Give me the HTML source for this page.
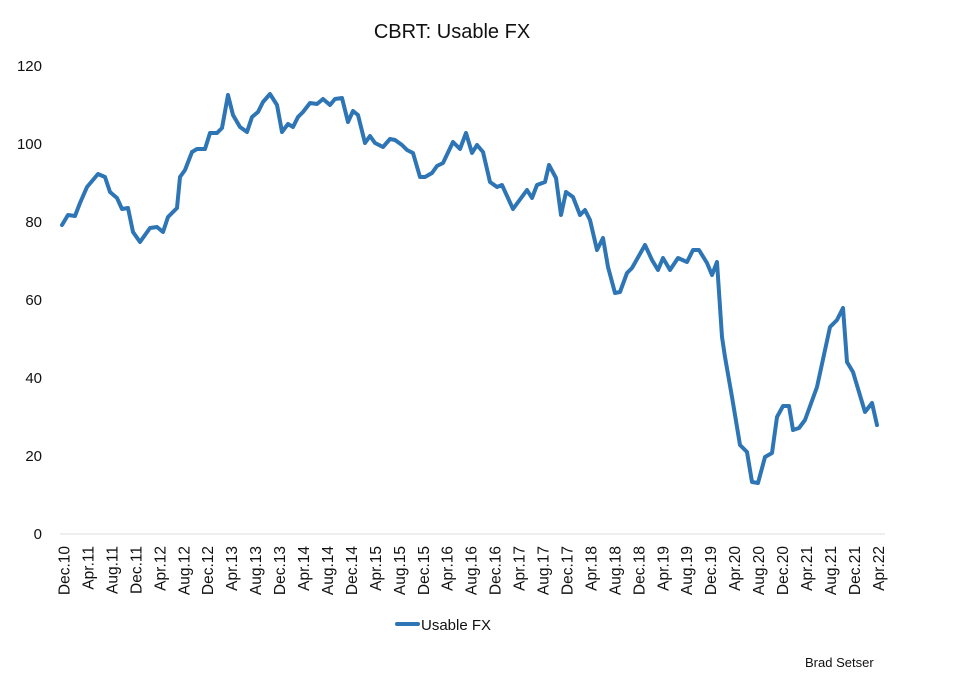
<!DOCTYPE html>
<html><head><meta charset="utf-8"><style>
body{margin:0;background:#fff;}
svg{display:block;font-family:"Liberation Sans",sans-serif;}
</style></head><body>
<svg width="967" height="673" viewBox="0 0 967 673" xmlns="http://www.w3.org/2000/svg">
<rect width="967" height="673" fill="#fff"/>
<text x="452" y="38" font-size="20" text-anchor="middle" fill="#111">CBRT: Usable FX</text>
<g font-size="15" fill="#111" text-anchor="end">
<text x="42" y="71">120</text>
<text x="42" y="149">100</text>
<text x="42" y="227">80</text>
<text x="42" y="305">60</text>
<text x="42" y="383">40</text>
<text x="42" y="461">20</text>
<text x="42" y="539">0</text>
</g>
<line x1="60" y1="534" x2="885" y2="534" stroke="#ddd" stroke-width="1"/>
<g font-size="15.5" fill="#111" text-anchor="end" id="xl"></g>
<polyline fill="none" stroke="#2e75b6" stroke-width="4" stroke-linejoin="round" stroke-linecap="round" points="
62,225 68,215 75,216 80,203 87,187 98,174 105,177 110,192 117,198 122,209 128,208 133,232 140,242 150,228 157,227 163,232 168,217 177,208 180,177 185,170 192,152 197,149 205,149 210,133 217,133 222,128 228,95 233,115 240,127 247,132 252,117 258,112 263,102 270,94 277,105 282,132 288,124 293,127 298,117 303,112 310,103 317,104 323,99 330,105 335,99 342,98 348,122 353,111 358,115 365,143 370,136 375,143 383,147 390,139 395,140 402,145 407,150 413,153 420,177 425,177 432,173 437,166 443,163 453,142 460,149 466,133 472,153 477,145 483,152 490,182 497,187 502,185 513,209 527,190 532,198 537,185 545,182 549,165 556,178 561,215 566,192 573,197 580,215 585,210 590,220 597,250 603,238 608,267 615,293 620,292 627,273 632,268 645,245 652,260 658,270 663,258 670,270 678,258 687,262 693,250 699,250 707,263 712,275 717,262 722,337 725,357 732,397 740,445 747,452 752,482 758,483 765,457 772,453 777,417 783,406 789,406 793,430 799,428 805,420 817,387 830,327 837,320 843,308 847,362 853,372 865,412 872,403 877,425"/>
<line x1="397" y1="624" x2="418" y2="624" stroke="#2e75b6" stroke-width="4" stroke-linecap="round"/>
<text x="421" y="630" font-size="15" fill="#111">Usable FX</text>
<text x="805" y="667" font-size="13" fill="#111">Brad Setser</text>
</svg>
<script>
var m=["Dec","Apr","Aug"],g=document.getElementById("xl"),s="";
for(var i=0;i<35;i++){var mo=m[i%3];var yr=10+Math.floor((i+2)/3);var x=64+i*23.95+5.5;
s+='<text transform="translate('+x.toFixed(1)+',546) rotate(-90)">'+mo+'.'+yr+'</text>';}
g.innerHTML=s;
</script>
</body></html>
